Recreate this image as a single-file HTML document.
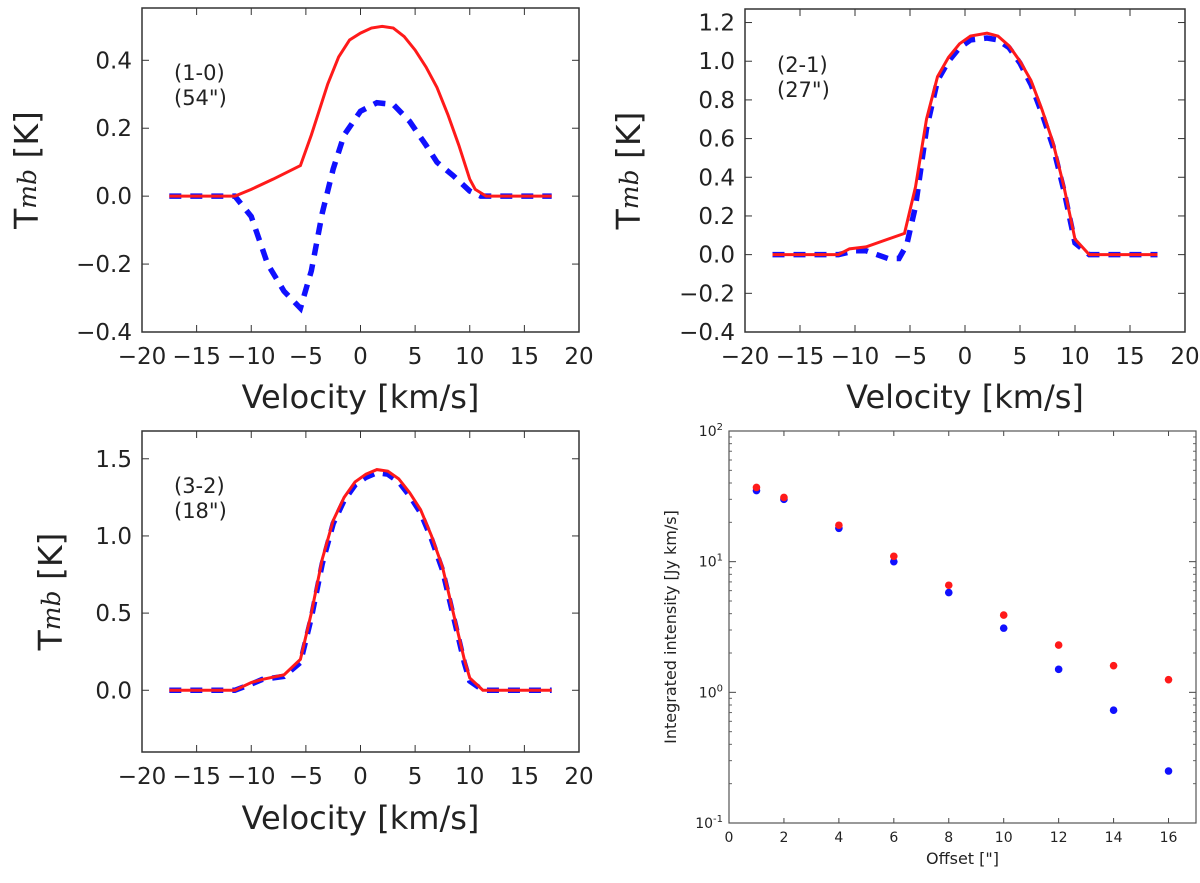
<!DOCTYPE html>
<html><head><meta charset="utf-8">
<style>
body{margin:0;background:#fff;}
svg text{font-family:"DejaVu Sans","Liberation Sans",sans-serif;fill:#222;}
</style></head>
<body>
<svg id="fig" width="1200" height="878" viewBox="0 0 1200 878" xmlns="http://www.w3.org/2000/svg"></svg>
<script>
// ---- Spectra data ----
const v10Red = [-17.5,-11.5,-10,-8,-5.5,-4.5,-3,-2,-1,0,1,2,3,4,5,6,7,8,9,10,10.5,11.5,17.5];
const t10Red = [0,0,0.02,0.05,0.09,0.18,0.33,0.41,0.46,0.48,0.495,0.5,0.495,0.47,0.43,0.38,0.32,0.24,0.15,0.05,0.02,0,0];
const v10Blue = [-17.5,-11.5,-10,-8.5,-7,-5.5,-4.5,-3.5,-2.5,-1.5,0,1.5,3,4.5,6,7,8.5,10,11,17.5];
const t10Blue = [0,0,-0.06,-0.2,-0.28,-0.33,-0.22,-0.05,0.08,0.18,0.25,0.275,0.27,0.22,0.15,0.1,0.06,0.015,0,0];

const v21Red = [-17.5,-11.5,-10.5,-9,-5.5,-4.5,-3.5,-2.5,-1.5,-0.5,0.5,2,3,4,5,6,7,8,9,10,11.3,17.5];
const t21Red = [0,0,0.03,0.04,0.11,0.35,0.7,0.92,1.02,1.09,1.13,1.145,1.13,1.08,1.0,0.9,0.75,0.58,0.35,0.08,0,0];
const v21Blue = [-17.5,-11.5,-10,-9,-7,-6,-5.3,-4.5,-3.5,-2.5,-1.5,-0.5,0.5,2,3,4,5,6,7,8,9,10,11.3,17.5];
const t21Blue = [0,0,0.02,0.02,-0.02,-0.02,0.05,0.25,0.65,0.9,1.0,1.07,1.11,1.12,1.11,1.07,0.99,0.88,0.73,0.56,0.33,0.06,0,0];

const v32Red = [-17.5,-11.5,-10,-9,-7,-5.5,-4.5,-3.5,-2.5,-1.5,-0.5,0.5,1.5,2.5,3.5,4.5,5.5,6.5,7.5,8.5,9.5,10,11.2,17.5];
const t32Red = [0,0,0.05,0.07,0.1,0.2,0.5,0.85,1.1,1.25,1.35,1.4,1.43,1.42,1.37,1.28,1.17,1.0,0.8,0.5,0.2,0.08,0,0];
const v32Blue = v32Red;
const t32Blue = [0,0,0.04,0.07,0.09,0.18,0.47,0.82,1.08,1.23,1.33,1.38,1.41,1.4,1.35,1.26,1.15,0.98,0.78,0.48,0.18,0.06,0,0];

// ---- Integrated intensity data ----
const offsets = [1,2,4,6,8,10,12,14,16];
const intRed = [37,31,19,11,6.6,3.9,2.3,1.6,1.25];
const intBlue = [35,30,18,10,5.8,3.1,1.5,0.73,0.25];

const xTicks = [-20,-15,-10,-5,0,5,10,15,20];
const xTickLabels = ["\u221220","\u221215","\u221210","\u22125","0","5","10","15","20"];
const yTicks10 = [-0.4,-0.2,0.0,0.2,0.4];
const yTickLabels10 = ["\u22120.4","\u22120.2","0.0","0.2","0.4"];
const yTicks21 = [-0.4,-0.2,0,0.2,0.4,0.6,0.8,1.0,1.2];
const yTickLabels21 = ["\u22120.4","\u22120.2","0.0","0.2","0.4","0.6","0.8","1.0","1.2"];
const yTicks32 = [0,0.5,1.0,1.5];
const yTickLabels32 = ["0.0","0.5","1.0","1.5"];
const offTicks = [0,2,4,6,8,10,12,14,16];
const logDecades = [-1,0,1,2];

const NS="http://www.w3.org/2000/svg";
const svg=document.getElementById('fig');
function mk(tag,attrs,parent){const e=document.createElementNS(NS,tag);for(const k in attrs)e.setAttribute(k,attrs[k]);(parent||svg).appendChild(e);return e;}

function spectrum(o){
  const g=mk('g',{});
  
  
  const sx=v=>o.x0+(v-(-20))/40*(o.x1-o.x0);
  const sy=t=>o.y1-(t-o.ymin)/(o.ymax-o.ymin)*(o.y1-o.y0);
  xTicks.forEach((v,i)=>{
    const x=sx(v);
    mk('line',{x1:x,x2:x,y1:o.y1,y2:o.y1-7,stroke:'#333','stroke-width':1},g);
    mk('line',{x1:x,x2:x,y1:o.y0,y2:o.y0+7,stroke:'#333','stroke-width':1},g);
    const t=mk('text',{x:x,y:o.y1+32,'text-anchor':'middle','font-size':23},g);
    t.textContent=xTickLabels[i];
    
    
  });
  o.yt.forEach((v,i)=>{
    const y=sy(v);
    mk('line',{x1:o.x0,x2:o.x0+7,y1:y,y2:y,stroke:'#333','stroke-width':1},g);
    mk('line',{x1:o.x1,x2:o.x1-7,y1:y,y2:y,stroke:'#333','stroke-width':1},g);
    const t=mk('text',{x:o.x0-10,y:y+8,'text-anchor':'end','font-size':23},g);
    t.textContent=o.ytl[i];
    
    
  });
  const clipId='c'+o.name;
  const cp=mk('clipPath',{id:clipId},g);
  mk('rect',{x:o.x0,y:o.y0,width:o.x1-o.x0,height:o.y1-o.y0},cp);
  const pb=mk('polyline',{points:o.vb.map((v,i)=>sx(v)+','+sy(o.tb[i])).join(' '),fill:'none',stroke:'#1010ff','stroke-width':5.5,'stroke-dasharray':'12,9','clip-path':'url(#'+clipId+')'},g);
  
  
  const pr=mk('polyline',{points:o.vr.map((v,i)=>sx(v)+','+sy(o.tr[i])).join(' '),fill:'none',stroke:'#ff1a1a','stroke-width':3,'clip-path':'url(#'+clipId+')'},g);
  
  
  mk('rect',{x:o.x0,y:o.y0,width:o.x1-o.x0,height:o.y1-o.y0,fill:'none',stroke:'#333','stroke-width':1.5},g);
  const a1=mk('text',{x:o.x0+32,y:o.ay,'font-size':21},g);a1.textContent=o.l1;
  
  
  const a2=mk('text',{x:o.x0+32,y:o.ay+25,'font-size':21},g);a2.textContent=o.l2;
  
  
  const xl=mk('text',{x:(o.x0+o.x1)/2,y:o.xly,'text-anchor':'middle','font-size':32},g);
  xl.textContent='Velocity [km/s]';
  
  
  const cy=(o.y0+o.y1)/2;
  const yl=mk('text',{x:0,y:0,'text-anchor':'middle','font-size':33,transform:'translate('+o.ylx+','+cy+') rotate(-90)'},g);
  yl.innerHTML='T<tspan font-style="italic" font-family="DejaVu Serif, Liberation Serif, serif" font-size="25" dy="-2">mb</tspan><tspan dy="2"> [K]</tspan>';
  
  
}

spectrum({name:'panel-1-0',x0:142,x1:579,y0:8,y1:332,ymin:-0.4,ymax:0.554,yt:yTicks10,ytl:yTickLabels10,vr:v10Red,tr:t10Red,vb:v10Blue,tb:t10Blue,l1:'(1-0)',l2:'(54")',ay:80,xly:408,ylx:38});
spectrum({name:'panel-2-1',x0:745,x1:1185,y0:9,y1:332,ymin:-0.4,ymax:1.27,yt:yTicks21,ytl:yTickLabels21,vr:v21Red,tr:t21Red,vb:v21Blue,tb:t21Blue,l1:'(2-1)',l2:'(27")',ay:72,xly:408,ylx:640});
spectrum({name:'panel-3-2',x0:142,x1:579,y0:431,y1:752,ymin:-0.4,ymax:1.68,yt:yTicks32,ytl:yTickLabels32,vr:v32Red,tr:t32Red,vb:v32Blue,tb:t32Blue,l1:'(3-2)',l2:'(18")',ay:493,xly:829,ylx:62});

(function(){
  const g=mk('g',{});
  
  
  const x0=729,x1=1196,y0=431,y1=823;
  const sx=v=>x0+v/17*(x1-x0);
  const sy=v=>y1-(Math.log10(v)+1)/3*(y1-y0);
  offTicks.forEach(v=>{
    const x=sx(v);
    mk('line',{x1:x,x2:x,y1:y1,y2:y1-5,stroke:'#444'},g);
    mk('line',{x1:x,x2:x,y1:y0,y2:y0+5,stroke:'#444'},g);
    const t=mk('text',{x:x,y:y1+19,'text-anchor':'middle','font-size':14},g);t.textContent=v;
    
    
  });
  logDecades.forEach(d=>{
    const y=sy(Math.pow(10,d));
    mk('line',{x1:x0,x2:x0+7,y1:y,y2:y,stroke:'#444'},g);
    mk('line',{x1:x1,x2:x1-7,y1:y,y2:y,stroke:'#444'},g);
    const t=mk('text',{x:x0-6,y:y+5,'text-anchor':'end','font-size':14},g);
    t.innerHTML='10<tspan dy="-6" font-size="10">'+d+'</tspan>';
    
    
    if(d<2){for(let m=2;m<10;m++){const yy=sy(m*Math.pow(10,d));
      mk('line',{x1:x0,x2:x0+3,y1:yy,y2:yy,stroke:'#666'},g);
      mk('line',{x1:x1,x2:x1-3,y1:yy,y2:yy,stroke:'#666'},g);}}
  });
  offsets.forEach((o,i)=>{
    const b=mk('circle',{cx:sx(o),cy:sy(intBlue[i]),r:3.8,fill:'#1010ff'},g);
    
    
    const r=mk('circle',{cx:sx(o),cy:sy(intRed[i]),r:3.8,fill:'#ff1a1a'},g);
    
    
  });
  mk('rect',{x:x0,y:y0,width:x1-x0,height:y1-y0,fill:'none',stroke:'#555','stroke-width':1.2},g);
  const xl=mk('text',{x:(x0+x1)/2,y:864,'text-anchor':'middle','font-size':16},g);xl.textContent='Offset ["]';
  
  
  const yl=mk('text',{x:0,y:0,'text-anchor':'middle','font-size':16,transform:'translate(676,'+(y0+y1)/2+') rotate(-90)'},g);
  yl.textContent='Integrated intensity [Jy km/s]';
  
  
})();
</script>
</body></html>
